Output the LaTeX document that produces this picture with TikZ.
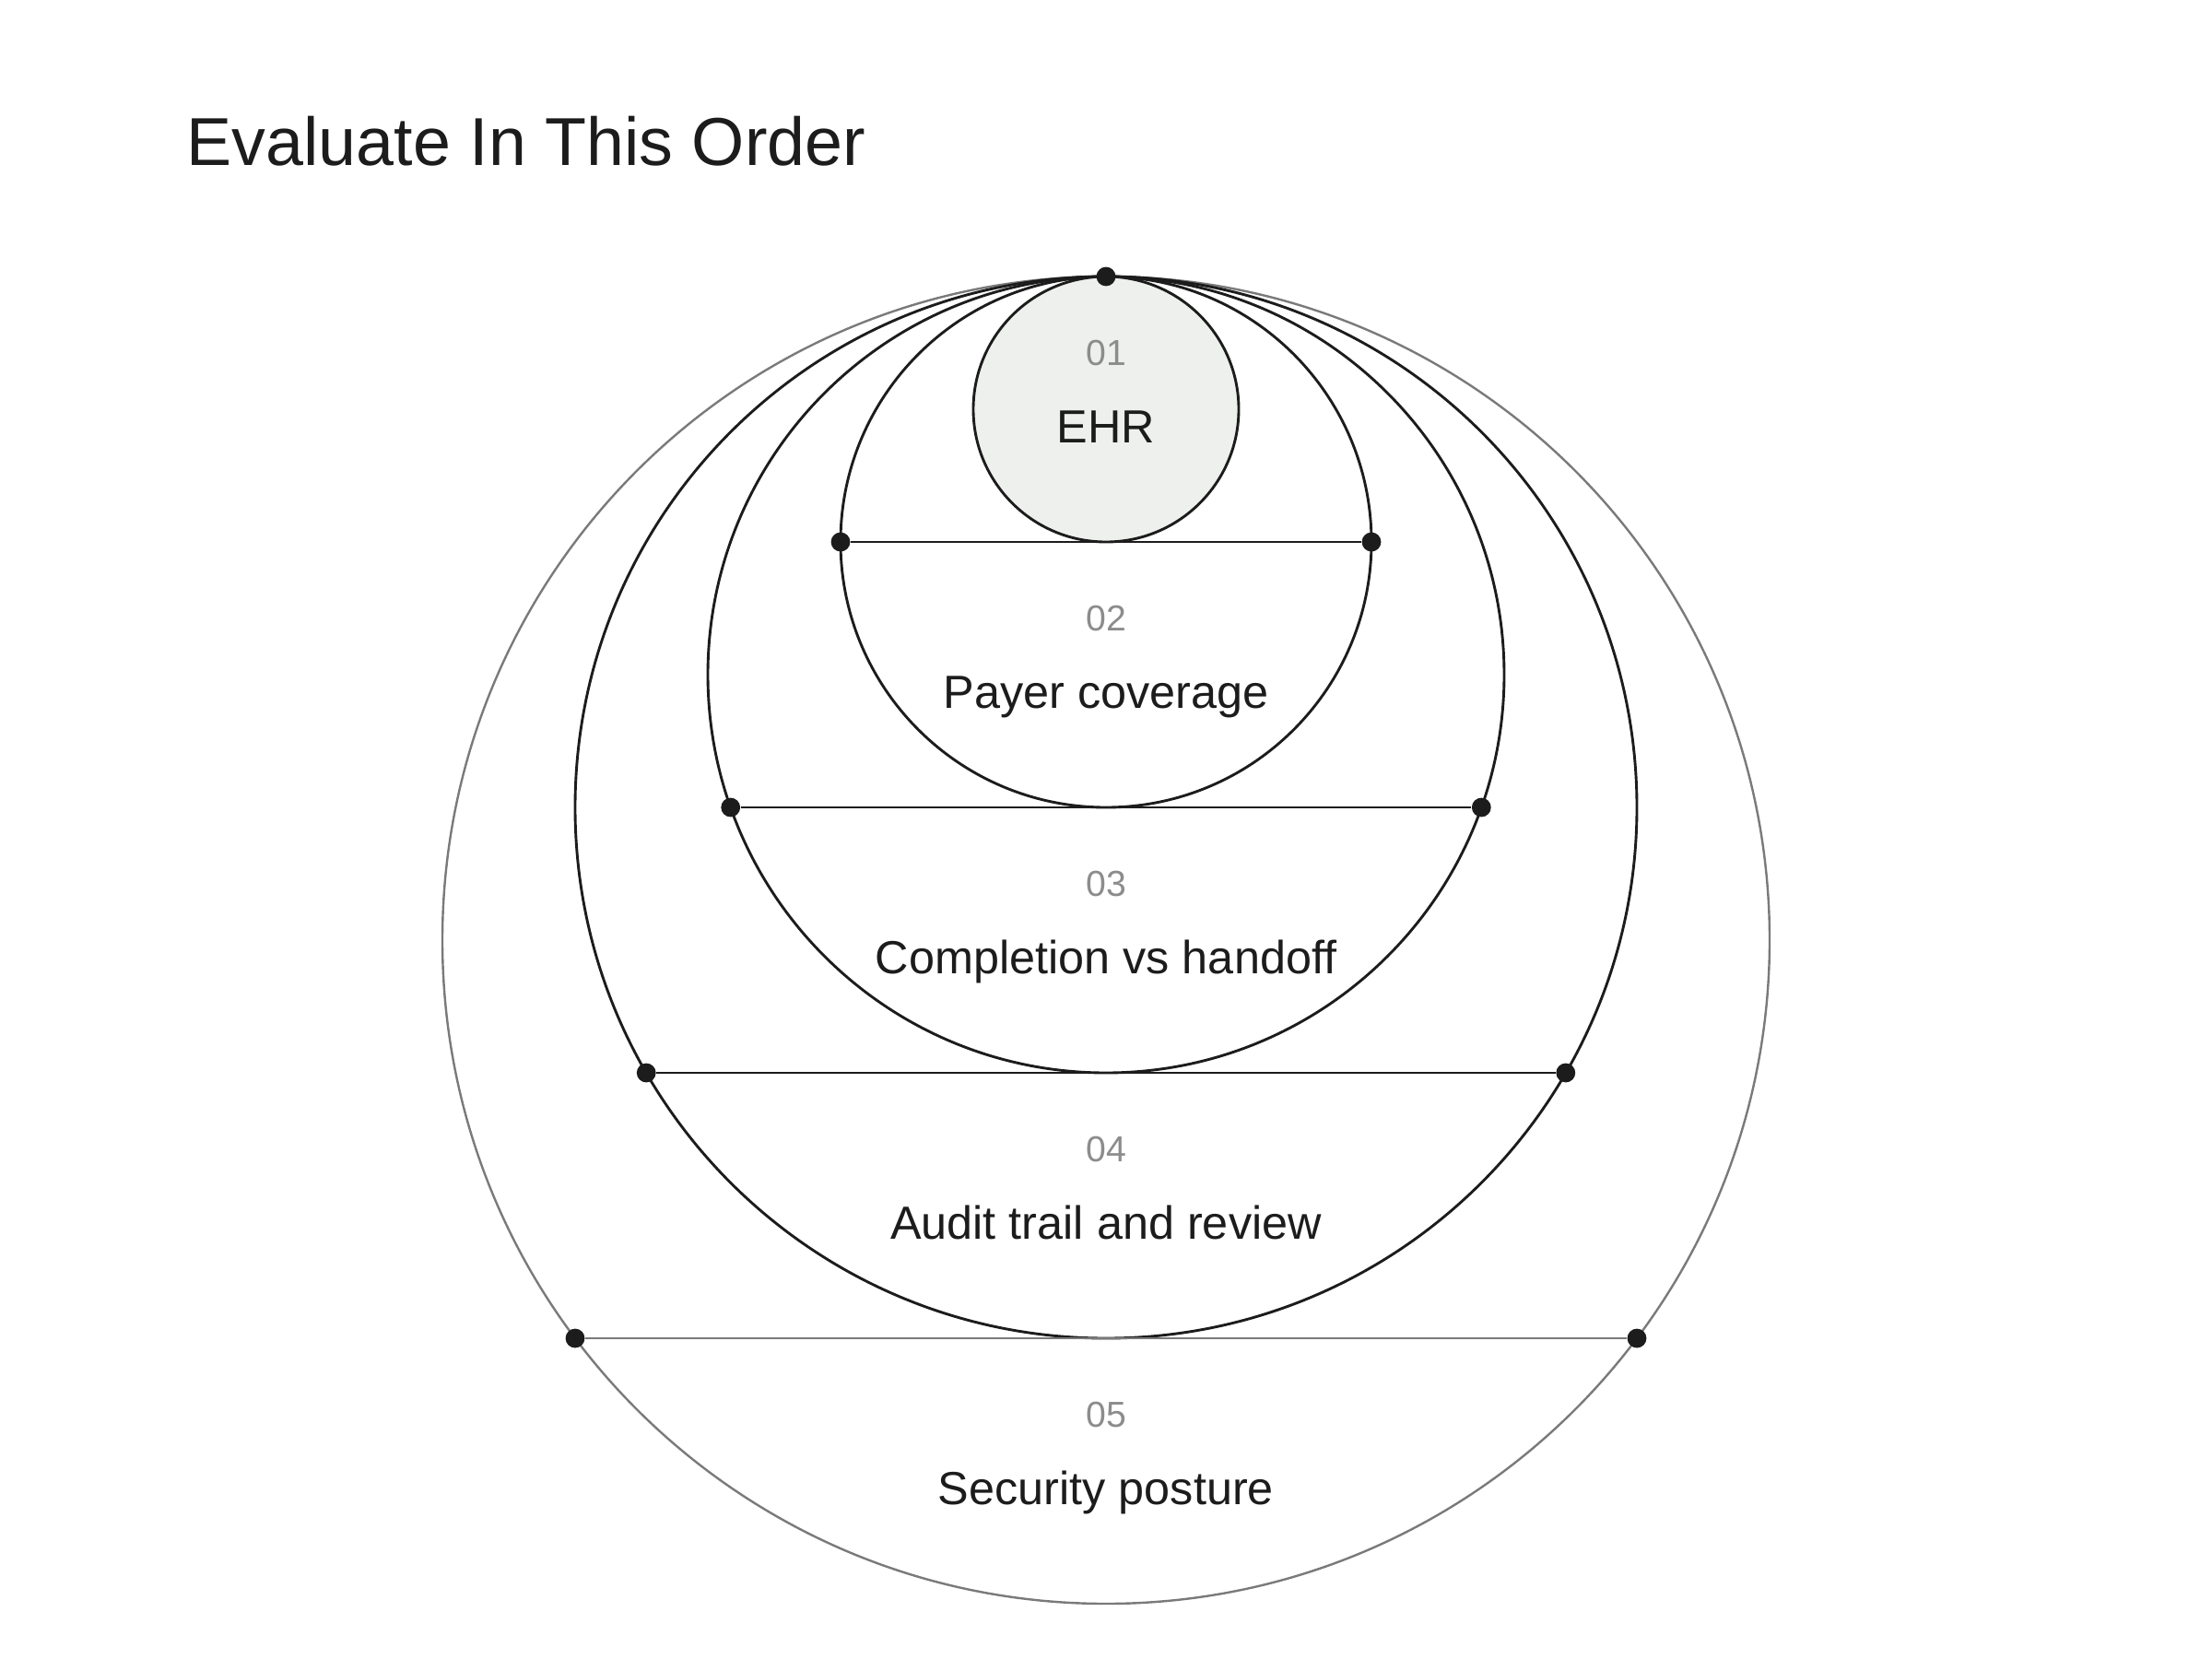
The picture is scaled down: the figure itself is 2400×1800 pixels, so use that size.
\documentclass[tikz,border=0pt]{standalone}
\usepackage{fontspec}
\setmainfont{Liberation Sans}
\definecolor{ink}{HTML}{1C1C1C}
\definecolor{numgray}{HTML}{8C8C8C}
\definecolor{outergray}{HTML}{7A7A7A}
\definecolor{corefill}{HTML}{EDF0EC}
\tikzset{
  ring/.style={draw=ink, line width=0.72pt},
  outerring/.style={draw=outergray, line width=0.6pt},
  dotnode/.style={circle, fill=ink, inner sep=0pt, minimum size=5.2pt},
  numlabel/.style={anchor=base, text=numgray, font=\fontsize{9.8pt}{11pt}\selectfont, inner sep=0pt},
  namelabel/.style={anchor=base, text=ink, font=\fontsize{12.6pt}{14pt}\selectfont, inner sep=0pt},
  titlelabel/.style={anchor=base west, text=ink, font=\fontsize{18.4pt}{22pt}\selectfont, inner sep=0pt},
  chord/.style={draw=ink, line width=0.72pt},
  outerchord/.style={draw=outergray, line width=0.6pt}
}
\begin{document}
\begin{tikzpicture}[x=0.25pt, y=-0.25pt]
\useasboundingbox (0,0) rectangle (2400,1800);
% title
\node[titlelabel] (title) at (202,179) {Evaluate In This Order};
% circles (all tangent at the top point)
\draw[outerring] (1200,1020) circle (180pt);
\draw[ring] (1200,876) circle (144pt);
\draw[ring] (1200,732) circle (108pt);
\draw[ring] (1200,588) circle (72pt);
\draw[ring, fill=corefill] (1200,444) circle (36pt);
% chord end points
\node[dotnode] (top) at (1200,300) {};
\node[dotnode] (a1) at (912,588) {};
\node[dotnode] (b1) at (1488,588) {};
\node[dotnode] (a2) at (792.7,876) {};
\node[dotnode] (b2) at (1607.3,876) {};
\node[dotnode] (a3) at (701.2,1164) {};
\node[dotnode] (b3) at (1698.8,1164) {};
\node[dotnode] (a4) at (624,1452) {};
\node[dotnode] (b4) at (1776,1452) {};
% chords
\draw[chord] (a1) -- (b1);
\draw[chord] (a2) -- (b2);
\draw[chord] (a3) -- (b3);
\draw[outerchord] (a4) -- (b4);
% labels
\node[numlabel] (n1) at (1200,396) {01};
\node[namelabel] (t1) at (1200,480) {EHR};
\node[numlabel] (n2) at (1200,684) {02};
\node[namelabel] (t2) at (1200,768) {Payer coverage};
\node[numlabel] (n3) at (1200,972) {03};
\node[namelabel] (t3) at (1200,1056) {Completion vs handoff};
\node[numlabel] (n4) at (1200,1260) {04};
\node[namelabel] (t4) at (1200,1344) {Audit trail and review};
\node[numlabel] (n5) at (1200,1548) {05};
\node[namelabel] (t5) at (1200,1632) {Security posture};
\end{tikzpicture}
\end{document}
